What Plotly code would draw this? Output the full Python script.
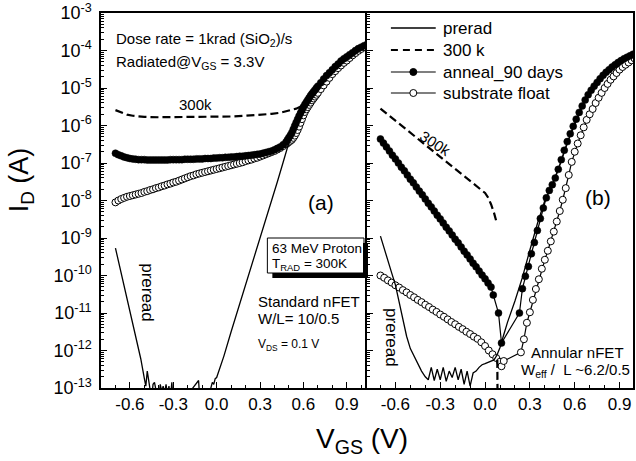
import plotly.graph_objects as go

# ---------------- data (log10 of drain current in A) -------------
# Panel (a): standard nFET
VGS_A = [-0.70, -0.68, -0.66, -0.64, -0.62, -0.60, -0.58, -0.56, -0.54, -0.52,
         -0.50, -0.48, -0.46, -0.44, -0.42, -0.40, -0.38, -0.36, -0.34, -0.32,
         -0.30, -0.28, -0.26, -0.24, -0.22, -0.20, -0.18, -0.16, -0.14, -0.12,
         -0.10, -0.08, -0.06, -0.04, -0.02, 0.00, 0.02, 0.04, 0.06, 0.08,
         0.10, 0.12, 0.14, 0.16, 0.18, 0.20, 0.22, 0.24, 0.26, 0.28,
         0.30, 0.32, 0.34, 0.36, 0.38, 0.40, 0.42, 0.44, 0.46, 0.48,
         0.49, 0.50, 0.51, 0.52, 0.53, 0.54, 0.55, 0.56, 0.57, 0.58,
         0.59, 0.60, 0.61, 0.62, 0.63, 0.64, 0.65, 0.66, 0.67, 0.68,
         0.69, 0.70, 0.72, 0.74, 0.76, 0.78, 0.80, 0.82, 0.84, 0.86,
         0.88, 0.90, 0.92, 0.94, 0.96, 0.98, 1.00, 1.02, 1.04]
LOGID_A_ANNEAL = [-6.74, -6.78, -6.81, -6.84, -6.86, -6.88, -6.89, -6.90, -6.91, -6.91,
                  -6.91, -6.92, -6.92, -6.92, -6.92, -6.92, -6.92, -6.92, -6.92, -6.91,
                  -6.91, -6.91, -6.91, -6.91, -6.90, -6.90, -6.90, -6.90, -6.89, -6.89,
                  -6.89, -6.88, -6.88, -6.88, -6.87, -6.87, -6.86, -6.86, -6.85, -6.85,
                  -6.84, -6.84, -6.83, -6.82, -6.82, -6.81, -6.80, -6.79, -6.78, -6.77,
                  -6.76, -6.74, -6.72, -6.70, -6.68, -6.65, -6.61, -6.57, -6.51, -6.44,
                  -6.38, -6.32, -6.26, -6.19, -6.10, -6.01, -5.92, -5.83, -5.75, -5.67,
                  -5.59, -5.51, -5.44, -5.38, -5.32, -5.26, -5.20, -5.15, -5.10, -5.05,
                  -5.00, -4.95, -4.86, -4.76, -4.67, -4.59, -4.51, -4.43, -4.36, -4.28,
                  -4.22, -4.17, -4.11, -4.06, -4.00, -3.95, -3.91, -3.87, -3.84]
LOGID_A_FLOAT = [-8.05, -8.00, -7.96, -7.93, -7.90, -7.88, -7.86, -7.84, -7.82, -7.80,
                 -7.77, -7.75, -7.72, -7.70, -7.67, -7.65, -7.62, -7.60, -7.57, -7.55,
                 -7.52, -7.50, -7.47, -7.44, -7.41, -7.38, -7.35, -7.33, -7.30, -7.28,
                 -7.26, -7.24, -7.22, -7.20, -7.18, -7.16, -7.14, -7.12, -7.10, -7.08,
                 -7.06, -7.04, -7.02, -7.00, -6.98, -6.95, -6.93, -6.91, -6.88, -6.86,
                 -6.83, -6.80, -6.77, -6.74, -6.71, -6.68, -6.64, -6.60, -6.55, -6.50,
                 -6.47, -6.44, -6.41, -6.38, -6.33, -6.27, -6.20, -6.12, -6.03, -5.93,
                 -5.83, -5.73, -5.64, -5.57, -5.51, -5.45, -5.39, -5.33, -5.28, -5.23,
                 -5.18, -5.13, -5.03, -4.93, -4.83, -4.73, -4.63, -4.55, -4.47, -4.40,
                 -4.33, -4.27, -4.20, -4.13, -4.07, -4.01, -3.96, -3.91, -3.87]
VGS_A_PRERAD = [-0.70, -0.675, -0.65, -0.625, -0.60, -0.575, -0.55, -0.525, -0.50, -0.49,
                -0.48, -0.47, -0.46, -0.45, -0.44, -0.43, -0.42, -0.41, -0.40, -0.39,
                -0.38, -0.37, -0.36, -0.35, -0.34, -0.33, -0.32, -0.31, -0.30, -0.28,
                -0.22, -0.18, -0.165, -0.125, -0.115, -0.06, -0.04, -0.03, -0.02, -0.01,
                0.00, 0.02, 0.05, 0.10, 0.15, 0.20, 0.25, 0.30, 0.35, 0.38,
                0.42, 0.46, 0.50, 0.52, 0.55, 0.60, 0.65, 0.70, 0.80, 0.90,
                1.00, 1.04]
LOGID_A_PRERAD = [-9.27, -9.70, -10.14, -10.57, -10.98, -11.38, -11.78, -12.22, -12.75, -12.95,
                  -12.55, -12.85, -13.10, -13.30, -12.90, -12.85, -13.05, -13.40, -13.30, -12.90,
                  -13.10, -12.95, -13.15, -12.90, -13.20, -12.95, -13.30, -12.85, -13.40, -13.60,
                  -13.50, -13.40, -13.00, -12.80, -13.40, -13.50, -13.00, -12.85, -12.90, -12.75,
                  -12.72, -12.50, -12.15, -11.50, -10.88, -10.26, -9.65, -9.03, -8.41, -8.04,
                  -7.50, -6.98, -6.45, -6.19, -5.92, -5.51, -5.20, -4.95, -4.51, -4.17,
                  -3.91, -3.84]
VGS_A_300K = [-0.70, -0.66, -0.62, -0.58, -0.54, -0.50, -0.40, -0.30, -0.20, -0.10,
              0.00, 0.10, 0.20, 0.30, 0.38, 0.44, 0.50, 0.55, 0.59, 0.62]
LOGID_A_300K = [-5.59, -5.66, -5.71, -5.74, -5.76, -5.77, -5.78, -5.78, -5.78, -5.78,
                -5.77, -5.76, -5.74, -5.72, -5.69, -5.66, -5.61, -5.55, -5.48, -5.41]

# Panel (b): annular nFET
VGS_B_ANNEAL = [-0.70, -0.68, -0.66, -0.64, -0.62, -0.60, -0.58, -0.56, -0.54, -0.52,
                -0.50, -0.48, -0.46, -0.44, -0.42, -0.40, -0.38, -0.36, -0.34, -0.32,
                -0.30, -0.28, -0.26, -0.24, -0.22, -0.20, -0.18, -0.16, -0.14, -0.12,
                -0.10, -0.08, -0.06, -0.04, -0.02, 0.00, 0.02, 0.04, 0.055, 0.09, 0.11,
                0.23, 0.25, 0.27, 0.29, 0.31, 0.33, 0.35, 0.37, 0.39,
                0.41, 0.43, 0.45, 0.47, 0.49, 0.51, 0.53, 0.55, 0.57, 0.59,
                0.61, 0.63, 0.65, 0.67, 0.69, 0.71, 0.73, 0.75, 0.77, 0.79,
                0.81, 0.83, 0.85, 0.87, 0.89, 0.91, 0.93, 0.95, 0.97, 0.99]
LOGID_B_ANNEAL = [-6.36, -6.47, -6.57, -6.68, -6.79, -6.89, -7.00, -7.11, -7.21, -7.32,
                  -7.43, -7.53, -7.64, -7.75, -7.85, -7.96, -8.07, -8.17, -8.28, -8.39,
                  -8.49, -8.60, -8.71, -8.81, -8.92, -9.03, -9.13, -9.24, -9.35, -9.45,
                  -9.56, -9.67, -9.77, -9.88, -9.99, -10.09, -10.20, -10.31, -10.52, -11.00, -11.80,
                  -11.00, -10.35, -10.02, -9.76, -9.42, -9.12, -8.80, -8.48, -8.20,
                  -7.93, -7.73, -7.58, -7.40, -7.17, -6.91, -6.66, -6.43, -6.22, -6.02,
                  -5.83, -5.65, -5.48, -5.32, -5.18, -5.06, -4.95, -4.85, -4.75, -4.66,
                  -4.58, -4.51, -4.44, -4.38, -4.32, -4.27, -4.22, -4.18, -4.14, -4.10]
VGS_B_FLOAT = [-0.700, -0.675, -0.650, -0.625, -0.600, -0.575, -0.550, -0.525, -0.500, -0.475,
               -0.450, -0.425, -0.400, -0.375, -0.350, -0.325, -0.300, -0.275, -0.250, -0.225,
               -0.200, -0.175, -0.150, -0.125, -0.100, -0.075, -0.050, -0.025, 0.000, 0.025,
               0.050, 0.075, 0.100, 0.110, 0.125,
               0.24, 0.26, 0.28, 0.30, 0.32, 0.34, 0.36, 0.38, 0.40, 0.42,
               0.44, 0.46, 0.48, 0.50, 0.52, 0.54, 0.56, 0.58, 0.60, 0.62,
               0.64, 0.66, 0.68, 0.70, 0.72, 0.74, 0.76, 0.78, 0.80, 0.82,
               0.84, 0.86, 0.88, 0.90, 0.92, 0.94, 0.96, 0.98, 1.00]
LOGID_B_FLOAT = [-10.00, -10.06, -10.13, -10.19, -10.26, -10.32, -10.39, -10.45, -10.52, -10.58,
                 -10.65, -10.71, -10.78, -10.84, -10.91, -10.97, -11.04, -11.10, -11.17, -11.24,
                 -11.30, -11.37, -11.43, -11.50, -11.56, -11.63, -11.69, -11.78, -11.88, -12.00,
                 -12.10, -12.20, -12.30, -12.42, -12.28,
                 -12.05, -11.70, -11.26, -10.98, -10.65, -10.36, -10.10, -9.82, -9.58, -9.34,
                 -9.09, -8.83, -8.56, -8.28, -7.98, -7.67, -7.32, -6.97, -6.70, -6.48,
                 -6.26, -6.05, -5.85, -5.70, -5.56, -5.40, -5.26, -5.13, -5.00, -4.89,
                 -4.78, -4.69, -4.60, -4.51, -4.44, -4.38, -4.32, -4.26, -4.21]
VGS_B_PRERAD = [-0.70, -0.675, -0.65, -0.625, -0.60, -0.575, -0.55, -0.525, -0.50, -0.475,
                -0.45, -0.425, -0.40, -0.38, -0.36, -0.34, -0.32, -0.30, -0.28, -0.26,
                -0.24, -0.22, -0.20, -0.18, -0.16, -0.14, -0.12, -0.10, -0.08, -0.06,
                -0.04, -0.02, 0.00, 0.02, 0.04, 0.06, 0.08, 0.10, 0.125, 0.15,
                0.20, 0.25, 0.30, 0.35, 0.40, 0.45, 0.50, 0.55, 0.60, 0.65,
                0.70, 0.75, 0.80, 0.85, 0.90, 0.95, 1.00]
LOGID_B_PRERAD = [-8.95, -9.30, -9.62, -9.93, -10.25, -10.70, -11.15, -11.62, -11.95, -12.15,
                  -12.35, -12.55, -12.70, -12.78, -12.45, -12.80, -12.50, -12.78, -12.45, -12.82,
                  -12.55, -12.72, -12.45, -12.78, -12.50, -12.90, -12.55, -12.95, -12.60, -12.55,
                  -12.45, -12.38, -12.35, -12.32, -12.30, -12.25, -12.12, -11.92, -11.58, -11.25,
                  -10.68, -10.05, -9.32, -8.62, -8.00, -7.57, -7.05, -6.45, -5.98, -5.50,
                  -5.10, -4.84, -4.63, -4.44, -4.29, -4.18, -4.09]
VGS_B_300K = [-0.70, -0.60, -0.50, -0.40, -0.30, -0.20, -0.10, -0.05, 0.00, 0.02,
              0.04, 0.06, 0.075, 0.078, 0.082, 0.084]
LOGID_B_300K = [-5.55, -5.87, -6.20, -6.52, -6.84, -7.16, -7.49, -7.65, -7.80, -7.92,
                -8.10, -8.33, -8.55, None, -12.25, -13.60]

SERIES_NAMES = ["prerad", "300 k", "anneal_90 days", "substrate float"]
Y_EXPONENTS = [-13, -12, -11, -10, -9, -8, -7, -6, -5, -4, -3]
X_TICKS = [-0.6, -0.3, 0.0, 0.3, 0.6, 0.9]
X_TICKTEXT = ["-0.6", "-0.3", "0.0", "0.3", "0.6", "0.9"]


def amps(logs):
    return [None if v is None else 10.0 ** v for v in logs]


FONT = "Liberation Sans, Arial, Helvetica, sans-serif"
W, H = 636, 461
ML, MR, MT, MB = 101, 1, 13, 73
PW, PH = W - ML - MR, H - MT - MB


def pp(x, y):
    """pixel position -> paper coordinates"""
    return (x - ML) / PW, (H - MB - y) / PH


fig = go.Figure()

STYLE = {
    "prerad": dict(mode="lines", line=dict(color="black", width=1.3)),
    "300 k": dict(mode="lines", line=dict(color="black", width=2.2, dash="8px,4px")),
    "anneal_90 days": dict(mode="lines+markers", line=dict(color="black", width=1.2),
                           marker=dict(symbol="circle", size=7, color="black",
                                       line=dict(color="black", width=0.5))),
    "substrate float": dict(mode="lines+markers", line=dict(color="black", width=1.2),
                            marker=dict(symbol="circle", size=7, color="white",
                                        line=dict(color="black", width=1))),
}


def add_panel(ax, data):
    xa, ya = ("x", "y") if ax == 1 else ("x2", "y2")
    # drawing order: open circles, filled circles, dashed, solid
    for name in ["substrate float", "anneal_90 days", "300 k", "prerad"]:
        vx, lg = data[name]
        fig.add_trace(go.Scatter(x=vx, y=amps(lg), xaxis=xa, yaxis=ya, name=name,
                                 showlegend=False, connectgaps=False, **STYLE[name]))


add_panel(1, {"substrate float": (VGS_A, LOGID_A_FLOAT),
              "anneal_90 days": (VGS_A, LOGID_A_ANNEAL),
              "300 k": (VGS_A_300K, LOGID_A_300K),
              "prerad": (VGS_A_PRERAD, LOGID_A_PRERAD)})
add_panel(2, {"substrate float": (VGS_B_FLOAT, LOGID_B_FLOAT),
              "anneal_90 days": (VGS_B_ANNEAL, LOGID_B_ANNEAL),
              "300 k": (VGS_B_300K, LOGID_B_300K),
              "prerad": (VGS_B_PRERAD, LOGID_B_PRERAD)})

xcommon = dict(
    tickmode="array", tickvals=X_TICKS, ticktext=X_TICKTEXT,
    ticks="inside", ticklen=6, tickwidth=1.3, tickcolor="black",
    minor=dict(tickmode="linear", tick0=0, dtick=0.1, ticks="inside", ticklen=3,
               tickwidth=1, tickcolor="black"),
    showline=True, linewidth=1.5, linecolor="black", mirror=True,
    showgrid=False, zeroline=False,
    tickfont=dict(family=FONT, size=17, color="black"),
)
ycommon = dict(
    type="log", range=[-13, -3],
    tickmode="array", tickvals=[10.0 ** e for e in Y_EXPONENTS],
    ticktext=["10<sup>%d</sup>" % e for e in Y_EXPONENTS],
    ticks="inside", ticklen=6, tickwidth=1.3, tickcolor="black",
    minor=dict(dtick="D1", ticks="inside", ticklen=3, tickwidth=0.8, tickcolor="black"),
    showline=True, linewidth=1.5, linecolor="black",
    showgrid=False, zeroline=False,
    tickfont=dict(family=FONT, size=18, color="black"),
)

fig.update_layout(
    width=W, height=H,
    margin=dict(l=ML, r=MR, t=MT, b=MB, pad=0),
    paper_bgcolor="white", plot_bgcolor="white",
    font=dict(family=FONT, color="black"),
    xaxis=dict(domain=[0, 0.5], range=[-0.8, 1.04], anchor="y", **xcommon),
    xaxis2=dict(domain=[0.5, 1.0], range=[-0.79, 0.99], anchor="y2", **xcommon),
    yaxis=dict(domain=[0, 1], anchor="x", ticklabelstandoff=4, mirror=False, **ycommon),
    yaxis2=dict(domain=[0, 1], anchor="x2", showticklabels=False, mirror=True, **ycommon),
    showlegend=False,
)

# ---- legend drawn as keys + labels in panel (b) ----
LEG_ROWS = [28, 50, 72, 93]
LEG_X0, LEG_X1, LEG_TX = 392, 437, 442
for name, ry in zip(SERIES_NAMES, LEG_ROWS):
    st = STYLE[name]
    ax0, ay = pp(LEG_X0, ry)
    ax1, _ = pp(LEG_X1, ry)
    fig.add_shape(type="line", xref="paper", yref="paper", x0=ax0, x1=ax1, y0=ay, y1=ay,
                  line=dict(color="black", width=st["line"]["width"],
                            dash="7px,5px" if name == "300 k" else "solid"))
    if "marker" in st:
        cx = (LEG_X0 + LEG_X1) / 2
        cx0, cy0 = pp(cx - 3.5, ry + 3.5)
        cx1, cy1 = pp(cx + 3.5, ry - 3.5)
        fig.add_shape(type="circle", xref="paper", yref="paper", x0=cx0, x1=cx1, y0=cy0, y1=cy1,
                      fillcolor=st["marker"]["color"], line=dict(color="black", width=1))
    tx, ty = pp(LEG_TX, ry)
    fig.add_annotation(text=name, x=tx, y=ty, xref="paper", yref="paper", xanchor="left",
                       yanchor="middle", showarrow=False,
                       font=dict(family=FONT, size=17, color="black"))

# box with drop shadow ("63 MeV Proton"): white box, shadow drawn as two thick lines
bx0, by0 = pp(268, 273)
bx1, by1 = pp(365, 238)
fig.add_shape(type="rect", xref="paper", yref="paper", x0=bx0, y0=by0, x1=bx1, y1=by1,
              fillcolor="white", line=dict(color="black", width=1), layer="above")
for (xa_, ya_, xb_, yb_) in [(273, 275.5, 368, 275.5), (366.5, 243, 366.5, 278)]:
    p0 = pp(xa_, ya_)
    p1 = pp(xb_, yb_)
    fig.add_shape(type="line", xref="paper", yref="paper", x0=p0[0], y0=p0[1], x1=p1[0], y1=p1[1],
                  line=dict(color="black", width=5), layer="above")


def note(text, x, y, size, xanchor="left", angle=0):
    ax_, ay_ = pp(x, y)
    fig.add_annotation(text=text, x=ax_, y=ay_, xref="paper", yref="paper",
                       xanchor=xanchor, yanchor="middle", showarrow=False, textangle=angle,
                       font=dict(family=FONT, size=size, color="black"))


note("Dose rate = 1krad (SiO<sub>2</sub>)/s", 114, 39, 15)
note("Radiated@V<sub>GS</sub> = 3.3V", 114, 62, 15)
note("300k", 196, 105, 15, "center")
note("(a)", 322, 202, 21, "center")
note("63 MeV Proton", 271, 248, 13.5)
note("T<sub>RAD</sub> = 300K", 271, 264, 13.5)
note("Standard nFET", 257, 301, 15)
note("W/L= 10/0.5", 257, 318, 15)
note("V<sub>DS</sub> = 0.1 V", 257, 345, 12)
note("preread", 147, 293, 17, "center", 90)
note("(b)", 600, 197, 21, "center")
note("300k", 437, 143, 15, "center", 33)
note("preread", 393, 338, 17, "center", 90)
note("Annular nFET", 531, 352, 15)
note("W<sub>eff</sub> /  L ~6.2/0.5", 521, 370, 15)
note("I<sub>D</sub> (A)", 21, 180, 27, "center", -90)
note("V<sub>GS</sub> (V)", 363, 440, 28, "center")

fig.write_html("out.html")
